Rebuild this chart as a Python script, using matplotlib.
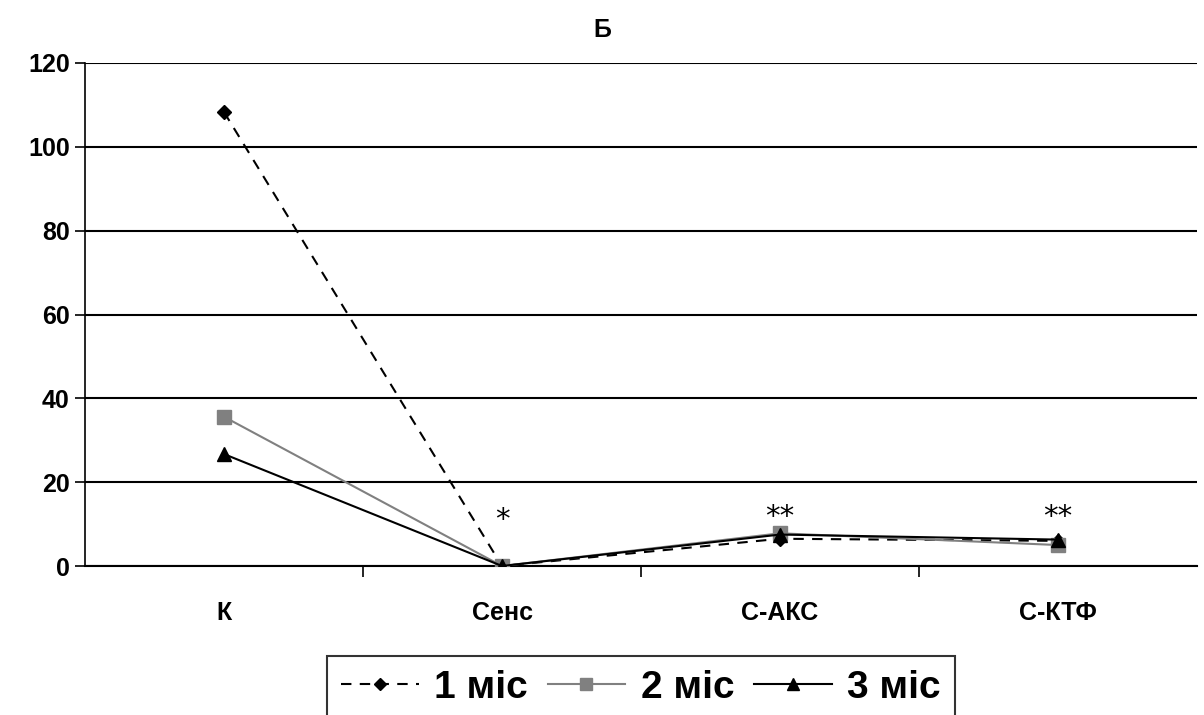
import numpy as np
from matplotlib import pyplot as plt

categories = ["К", "Сенс", "С-АКС", "С-КТФ"]
month_1 = [108.3, 0.0, 6.5, 6.0]
month_2 = [35.6, 0.0, 7.8, 5.0]
month_3 = [26.7, 0.0, 7.5, 6.3]
series_labels = ["1 міс", "2 міс", "3 міс"]
marks = ["", "*", "**", "**"]
mark_y = [0, 11.0, 11.6, 11.6]
y_ticks = [0, 20, 40, 60, 80, 100, 120]

plt.rcParams["font.family"] = ["Liberation Sans", "DejaVu Sans"]

fig = plt.figure(figsize=(12.04, 7.15), dpi=100)
ax = fig.add_axes([85 / 1204, 1 - 566 / 715, 1112 / 1204, 503 / 715])

x = np.arange(len(categories))
ax.plot(x, month_1, color="black", lw=1.5, ls=(0, (5, 4)), marker="D", ms=7,
        label=series_labels[0], zorder=3)
ax.plot(x, month_2, color="#808080", lw=1.5, marker="s", ms=10,
        label=series_labels[1], zorder=4)
ax.plot(x, month_3, color="black", lw=1.5, marker="^", ms=10,
        label=series_labels[2], zorder=5)

# significance marks above each group
for xi, m, ym in zip(x, marks, mark_y):
    if m:
        ax.text(xi, ym, m, ha="center", va="center", fontsize=21,
                family="DejaVu Sans")

ax.set_xlim(-0.5, len(categories) - 0.5)
ax.set_ylim(0, 120)
ax.set_yticks(y_ticks)
ax.yaxis.grid(True, color="black", lw=1.5)
ax.set_axisbelow(True)

ax.set_xticks(x)
ax.set_xticklabels(categories)
ax.set_xticks(np.arange(0.5, len(categories) - 1), minor=True)
ax.tick_params(axis="x", which="major", length=0, pad=25)
ax.tick_params(axis="x", which="minor", length=8, width=1.2, direction="out")
ax.tick_params(axis="y", length=7, width=1.2, direction="out", pad=4)
for lab in ax.get_xticklabels() + ax.get_yticklabels():
    lab.set_fontweight("bold")
    lab.set_fontsize(18)

for side in ["top", "right"]:
    ax.spines[side].set_visible(False)
ax.spines["left"].set_linewidth(1.2)
ax.spines["bottom"].set_linewidth(1.5)

fig.text(602 / 1204, 1 - 30 / 715, "Б", ha="center", va="center",
         fontsize=18, fontweight="bold")

leg = fig.legend(loc="upper center", bbox_to_anchor=(641 / 1204, 1 - 656 / 715),
                 ncol=3, frameon=True, fancybox=False, edgecolor="black",
                 prop={"size": 28, "weight": "bold"}, handlelength=2.0,
                 handletextpad=0.4, columnspacing=0.5, borderpad=0.35,
                 borderaxespad=0)
leg.get_frame().set_linewidth(1.5)
for line, ms in zip(leg.get_lines(), [6.5, 8.5, 8]):
    line.set_markersize(ms)

fig.savefig("out.png", dpi=100)
